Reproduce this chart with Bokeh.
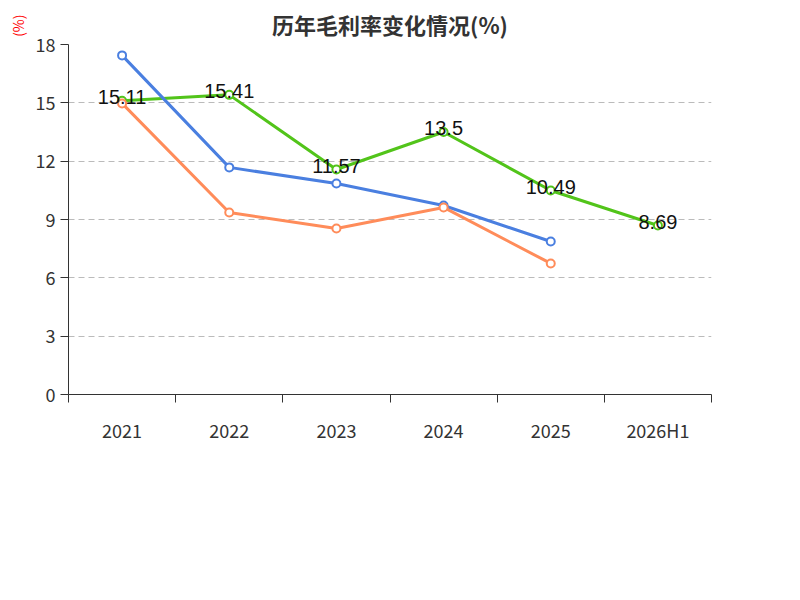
from bokeh.plotting import figure
from bokeh.models import FixedTicker, Legend, LegendItem, Title, Range1d, ColumnDataSource
from bokeh.embed import file_html
from bokeh.resources import INLINE

cats = ["2021", "2022", "2023", "2024", "2025", "2026H1"]
company = [15.11, 15.41, 11.57, 13.5, 10.49, 8.69]
industry_avg = [17.44, 11.68, 10.85, 9.72, 7.87]
industry_med = [14.97, 9.36, 8.54, 9.62, 6.74]
yticks = [0, 3, 6, 9, 12, 15, 18]

F = "Noto Sans CJK SC"
p = figure(frame_width=643, frame_height=350, output_backend="svg", toolbar_location=None,
           x_range=Range1d(-0.5, 5.5), y_range=Range1d(0, 18),
           min_border_left=20, min_border_right=24, min_border_top=30, min_border_bottom=8)
p.outline_line_color = None
p.title.text = "历年毛利率变化情况(%)"
p.title.align = "center"
p.title.text_font = F
p.title.text_font_size = "22px"
p.title.text_color = "#333333"
p.title.offset = 0

xs = list(range(len(cats)))
p.xaxis.ticker = FixedTicker(ticks=xs, minor_ticks=[i - 0.5 for i in range(len(cats) + 1)])
p.xaxis.major_label_overrides = {i: c for i, c in enumerate(cats)}
p.xaxis.major_tick_line_color = None
p.xaxis.minor_tick_out = 8
p.xaxis.minor_tick_in = 0
p.xaxis.major_label_text_font = F
p.xaxis.major_label_text_font_size = "18px"
p.xaxis.major_label_text_color = "#333333"
p.xaxis.axis_line_color = "#333333"
p.xaxis.minor_tick_line_color = "#333333"
p.xaxis.major_label_standoff = 14
p.xgrid.grid_line_color = None

p.yaxis.ticker = FixedTicker(ticks=yticks)
p.yaxis.minor_tick_line_color = None
p.yaxis.major_tick_out = 8
p.yaxis.major_tick_in = 0
p.yaxis.major_label_text_font = F
p.yaxis.major_label_text_font_size = "18px"
p.yaxis.major_label_text_color = "#333333"
p.yaxis.axis_line_color = "#333333"
p.yaxis.major_tick_line_color = "#333333"
p.ygrid.grid_line_dash = "6 4"
p.ygrid.grid_line_color = "#bbbbbb"

p.add_layout(Title(text="(%)", text_color="red", text_font=F, text_font_size="14px",
                   text_font_style="normal", align="right", offset=-30), "left")

colors = ["#52c41a", "#4a7fe0", "#ff8c5a"]
names = ["公司毛利率", "行业均值", "行业中位数"]
items = []
for data, c, n in zip([company, industry_avg, industry_med], colors, names):
    x = xs[:len(data)]
    l = p.line(x, data, line_color=c, line_width=3)
    s = p.scatter(x, data, size=8, fill_color="white", line_color=c, line_width=2)
    items.append(LegendItem(label=n, renderers=[l, s]))

src = ColumnDataSource(dict(x=xs, y=company, t=[str(v) for v in company]))
p.text("x", "y", text="t", source=src, text_align="center", text_baseline="middle",
       text_font_size="20px", text_color="#111111", y_offset=-4)

leg = Legend(items=items, orientation="horizontal", location="center",
             label_text_font=F, label_text_font_size="20px", label_text_color="#333333",
             border_line_color=None, glyph_width=44, spacing=20, margin=22)
p.add_layout(leg, "below")
p.add_layout(Title(text="制图数据来自恒生聚源数据库", text_color="#c8941e", text_font=F,
                   text_font_size="15px", align="center", text_font_style="normal"), "below")

open("out.html", "w").write(file_html(p, INLINE))
